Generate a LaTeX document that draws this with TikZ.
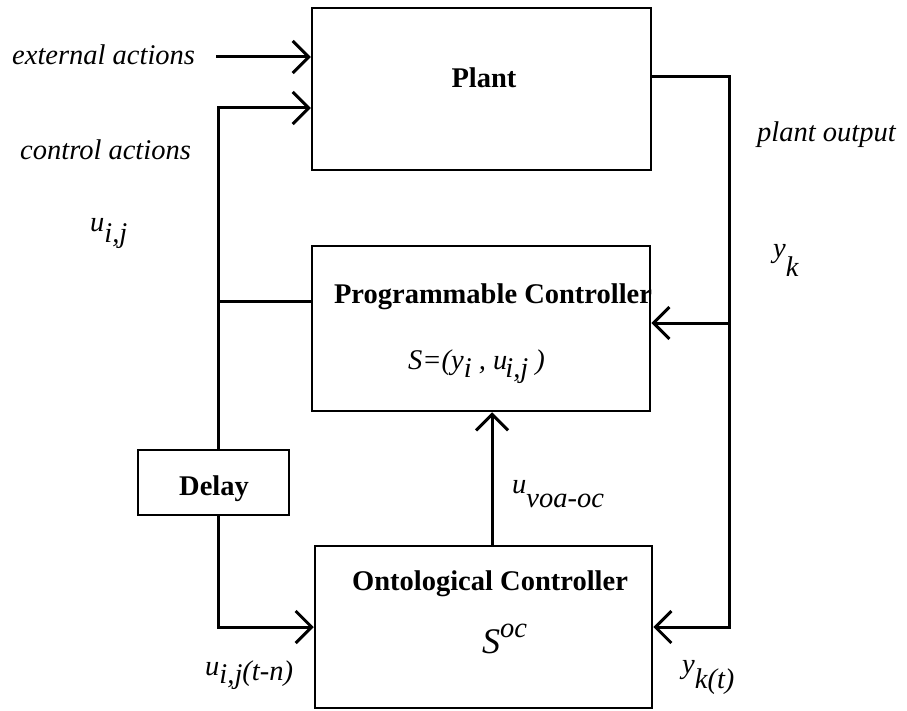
\documentclass[tikz,border=0pt]{standalone}
\usepackage{fontspec}
\setmainfont{Liberation Serif}
\usetikzlibrary{arrows.meta}
\newcommand{\lowr}[2][10pt]{\raisebox{-#1}{#2}}

\begin{document}
\begin{tikzpicture}[x=1pt,y=-1pt,
  box/.style={draw,line width=2.5pt,inner sep=0pt},
  boldtxt/.style={inner sep=0pt,font=\fontsize{28.5}{30}\selectfont\bfseries},
  itxt/.style={inner sep=0pt,font=\fontsize{28.5}{30}\selectfont\itshape},
  wire/.style={line width=3pt},
  arr/.style={wire,-{Straight Barb[length=16pt,width=32pt,line width=3pt]}}]
  \useasboundingbox (0,0) rectangle (907,711);

  \node[box,minimum width=339pt,minimum height=162pt] (plant) at (481.5,89) {};
  \node[box,minimum width=338pt,minimum height=165pt] (pc) at (481,328.5) {};
  \node[box,minimum width=151pt,minimum height=65pt] (delay) at (213.5,482.5) {};
  \node[box,minimum width=337pt,minimum height=162pt] (oc) at (483.5,627) {};

  \node[boldtxt,anchor=base] (planttxt) at (484,88) {Plant};
  \node[boldtxt,anchor=base] (pctxt) at (493,303) {Programmable Controller};
  \node[boldtxt,anchor=base] (dltxt) at (214,495) {Delay};
  \node[boldtxt,anchor=base] (octxt) at (490,590) {Ontological Controller};
  \node[itxt,anchor=base west] (ssys) at (408,369) {S=(y\lowr[8pt]{i} , u\kern-2pt\lowr[8pt]{i,j} )};
  \node[itxt,anchor=base west] (soc) at (482,653)
    {{\fontsize{36}{36}\selectfont S}\raisebox{16pt}{oc}};

  \node[itxt,anchor=base west] (exttxt) at (12,65) {external actions};
  \node[itxt,anchor=base west] (ctltxt) at (20,160) {control actions};
  \node[itxt,anchor=base west] (uij) at (90,232) {u\lowr[11pt]{i,j}};
  \node[itxt,anchor=base west] (outtxt) at (757,142) {plant output};
  \node[itxt,anchor=base west] (yk) at (773,258) {y\lowr[19pt]{k}};
  \node[itxt,anchor=base west] (uvoa) at (512,493) {u\lowr[14pt]{voa-oc}};
  \node[itxt,anchor=base west] (uijtn) at (205,675) {u\lowr[8pt]{i,j}\raisebox{-5pt}{(t-n)}};
  \node[itxt,anchor=base west] (yktt) at (682,673) {y\lowr[15pt]{k(t)}};

  % inputs of the plant
  \coordinate (ext) at (216,57);
  \coordinate (ctl) at (218,108);
  \coordinate (tap) at (218,301);
  \draw[arr] (ext) -- (ext -| plant.west);
  \draw[arr] (delay.north -| ctl) -- (ctl) -- (ctl -| plant.west);
  \draw[wire] (tap -| pc.west) -- (tap);
  \draw[arr] (delay.south -| ctl) -- (ctl |- oc.west) -- (oc.west);

  % plant output fed back
  \coordinate (out) at (729,77);
  \coordinate (fb) at (729,323);
  \draw[arr] (out -| plant.east) -- (out) -- (out |- oc.east) -- (oc.east);
  \draw[arr] (fb) -- (fb -| pc.east);
  \draw[arr] ([xshift=8.5pt]oc.north) coordinate (up) -- (up |- pc.south);
\end{tikzpicture}
\end{document}
